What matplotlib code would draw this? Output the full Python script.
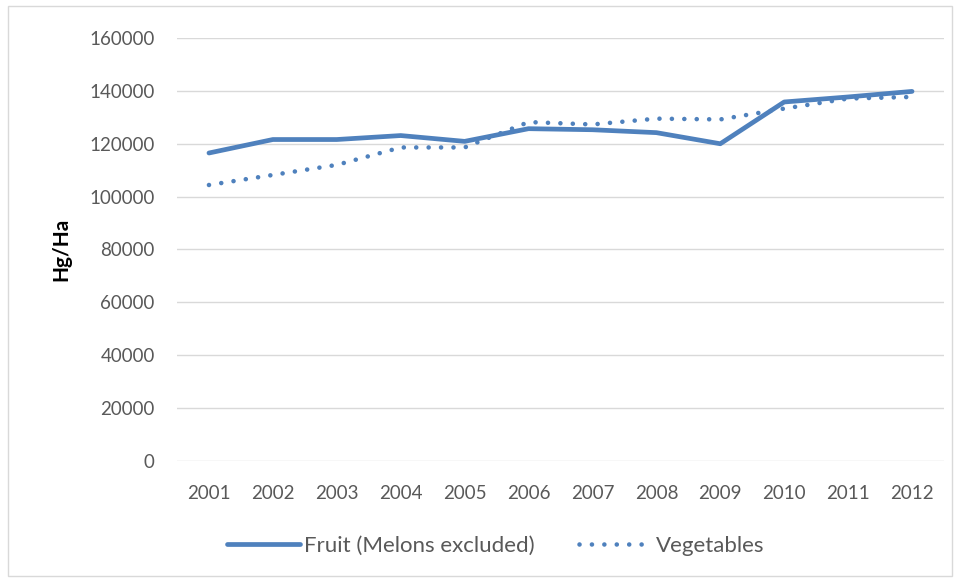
import matplotlib
matplotlib.use("Agg")
from matplotlib import pyplot as plt
from matplotlib.patches import Rectangle

years = ["2001", "2002", "2003", "2004", "2005", "2006",
         "2007", "2008", "2009", "2010", "2011", "2012"]
fruit = [116500, 121600, 121600, 123100, 120900, 125700,
         125300, 124200, 120000, 135800, 137700, 139800]
vegetables = [104400, 108200, 112000, 118600, 118600, 128200,
              127300, 129500, 129200, 133300, 137100, 137700]
y_ticks = [0, 20000, 40000, 60000, 80000, 100000, 120000, 140000, 160000]

blue = "#4f81bd"
text_col = "#595959"
plt.rcParams['font.family'] = ['Lato', 'DejaVu Sans']

fig = plt.figure(figsize=(9.61, 5.82), dpi=100)
ax = fig.add_axes([177 / 961, 1 - 461 / 582, (944 - 177) / 961, (461 - 38) / 582])

x = list(range(len(years)))
ax.plot(x, fruit, color=blue, lw=3.4, solid_capstyle="round",
        label="Fruit (Melons excluded)")
ax.plot(x, vegetables, color=blue, lw=3.3, linestyle=(0, (0.01, 2.7)),
        dash_capstyle="round", label="Vegetables")

ax.set_xlim(-0.5, len(years) - 0.5)
ax.set_ylim(0, 160000)
ax.set_xticks(x)
ax.set_xticklabels(years)
ax.set_yticks(y_ticks)
ax.set_yticklabels([str(v) for v in y_ticks])
ax.tick_params(length=0, labelsize=13.5, colors=text_col)
ax.tick_params(axis="x", pad=17)
ax.tick_params(axis="y", pad=16)
ax.grid(axis="y", color="#d9d9d9", lw=1)
ax.set_axisbelow(True)
for s in ax.spines.values():
    s.set_visible(False)

ax.set_ylabel("Hg/Ha", fontsize=15, fontweight="bold", color="black", labelpad=13)

fig.legend(loc="center", bbox_to_anchor=(0.5 + 15 / 961, 1 - 546 / 582), ncol=2,
           frameon=False, fontsize=16, labelcolor=text_col,
           handlelength=3.3, handletextpad=0.15, columnspacing=2.0)

fig.patches.append(Rectangle((8 / 961, 6 / 582), 944 / 961, 570 / 582,
                             transform=fig.transFigure, fill=False,
                             edgecolor="#d9d9d9", lw=1))

fig.savefig("out.png", dpi=100)
